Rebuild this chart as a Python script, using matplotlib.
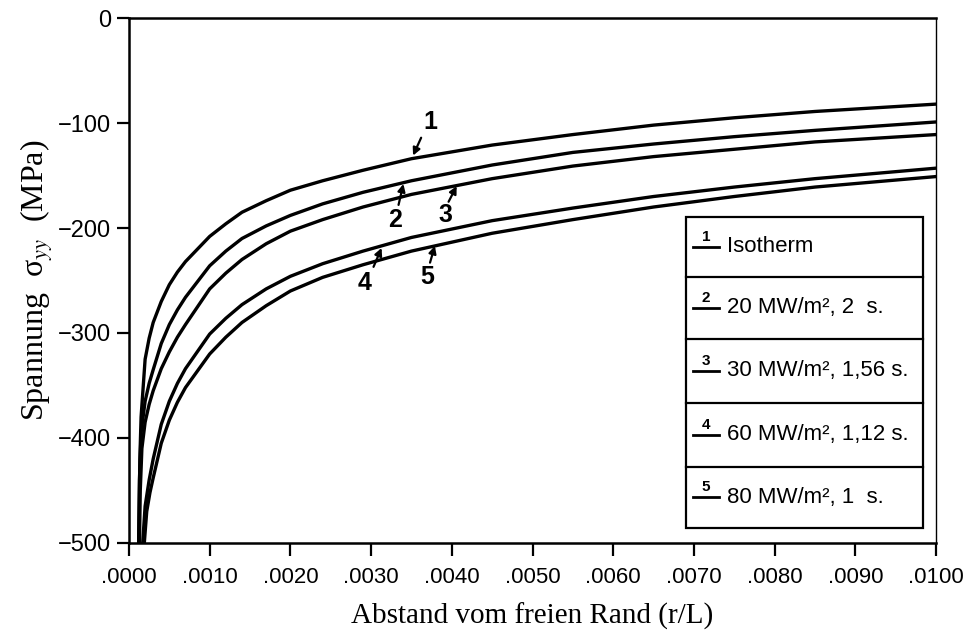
import numpy as np
import matplotlib.pyplot as plt
from matplotlib.patches import Rectangle

# Spannungsverlauf sigma_yy über dem Abstand vom freien Rand, 5 Lastfälle
r1 = [0.00012, 0.000135, 0.00015, 0.0002, 0.00025, 0.0003, 0.0004, 0.0005, 0.0006, 0.0007,
      0.001, 0.0012, 0.0014, 0.0017, 0.002, 0.0024, 0.0029, 0.0035, 0.0045, 0.0055,
      0.0065, 0.0075, 0.0085, 0.01]
s1 = [-500, -420, -380, -325, -305, -290, -270, -254, -242, -232,
      -208, -196, -185, -174, -164, -155, -145, -134, -121, -111,
      -102, -95, -89, -82]

r2 = [0.00012, 0.00013, 0.00015, 0.0002, 0.00025, 0.0003, 0.0004, 0.0005, 0.0006, 0.0007,
      0.001, 0.0012, 0.0014, 0.0017, 0.002, 0.0024, 0.0029, 0.0035, 0.0045, 0.0055,
      0.0065, 0.0075, 0.0085, 0.01]
s2 = [-500, -440, -395, -365, -348, -335, -310, -292, -278, -266,
      -236, -222, -210, -198, -188, -177, -166, -155, -140, -128,
      -120, -113, -107, -99]

r3 = [0.00013, 0.00014, 0.00016, 0.0002, 0.00025, 0.0003, 0.0004, 0.0005, 0.0006, 0.0007,
      0.001, 0.0012, 0.0014, 0.0017, 0.002, 0.0024, 0.0029, 0.0035, 0.0045, 0.0055,
      0.0065, 0.0075, 0.0085, 0.01]
s3 = [-500, -450, -410, -385, -368, -355, -334, -318, -304, -292,
      -258, -243, -230, -215, -203, -192, -180, -168, -153, -141,
      -132, -125, -118, -111]

r4 = [0.00017, 0.0002, 0.00025, 0.0003, 0.0004, 0.0005, 0.0006, 0.0007, 0.001, 0.0012,
      0.0014, 0.0017, 0.002, 0.0024, 0.0029, 0.0035, 0.0045, 0.0055, 0.0065, 0.0075,
      0.0085, 0.01]
s4 = [-500, -465, -440, -420, -387, -365, -348, -334, -301, -286,
      -273, -258, -246, -234, -222, -209, -193, -181, -170, -161,
      -153, -143]

r5 = [0.00019, 0.00022, 0.00026, 0.0003, 0.0004, 0.0005, 0.0006, 0.0007, 0.001, 0.0012,
      0.0014, 0.0017, 0.002, 0.0024, 0.0029, 0.0035, 0.0045, 0.0055, 0.0065, 0.0075,
      0.0085, 0.01]
s5 = [-500, -470, -452, -438, -405, -383, -366, -352, -320, -304,
      -290, -274, -260, -247, -235, -222, -205, -192, -180, -170,
      -161, -151]

kurven = [(r1, s1), (r2, s2), (r3, s3), (r4, s4), (r5, s5)]
nummern = ["1", "2", "3", "4", "5"]
legende = ["Isotherm", "20 MW/m², 2  s.", "30 MW/m², 1,56 s.",
           "60 MW/m², 1,12 s.", "80 MW/m², 1  s."]

xticks = [0.0, 0.001, 0.002, 0.003, 0.004, 0.005, 0.006, 0.007, 0.008, 0.009, 0.01]
xticklabels = [".0000", ".0010", ".0020", ".0030", ".0040", ".0050",
               ".0060", ".0070", ".0080", ".0090", ".0100"]
yticks = [0, -100, -200, -300, -400, -500]
yticklabels = ["0", "\u2212100", "\u2212200", "\u2212300", "\u2212400", "\u2212500"]

schmal = ["Liberation Sans", "DejaVu Sans"]
plt.rcParams["mathtext.fontset"] = "stix"

fig = plt.figure(figsize=(9.69, 6.37), dpi=100)
ax = fig.add_axes([0.1331, 0.1476, 0.8329, 0.8241])

for r, s in kurven:
    ax.plot(r, s, color="black", lw=2.4, solid_joinstyle="round")

ax.set_xlim(0, 0.01)
ax.set_ylim(-500, 0)

ax.set_xticks(xticks)
ax.set_xticklabels(xticklabels, family=schmal, fontsize=16)
ax.set_yticks(yticks)
ax.set_yticklabels(yticklabels, family=schmal, fontsize=17)
ax.tick_params(direction="out", length=9, width=1.6)
ax.tick_params(axis="x", pad=8)
ax.tick_params(axis="y", pad=4)

for seite in ["left", "bottom", "top"]:
    ax.spines[seite].set_linewidth(1.8)
ax.spines["right"].set_linewidth(1.0)

ax.set_xlabel("Abstand vom freien Rand (r/L)", family="Liberation Serif", fontsize=21, labelpad=11)
ax.set_ylabel("Spannung  σ$_{yy}$  (MPa)", family="Liberation Serif", fontsize=23, labelpad=2)

# Kurvennummern mit Pfeilen
marken = [("1", (0.00373, -99), (0.00362, -114), (0.00352, -131)),
          ("2", (0.00330, -192), (0.00334, -178), (0.00340, -158)),
          ("3", (0.00392, -188), (0.00396, -175), (0.00406, -160)),
          ("4", (0.00292, -252), (0.00303, -237), (0.00313, -219)),
          ("5", (0.00370, -247), (0.00373, -233), (0.00379, -217))]
for nr, pos, von, nach in marken:
    ax.text(pos[0], pos[1], nr, ha="center", va="center", fontsize=18,
            fontweight="bold", family=["Liberation Sans", "DejaVu Sans"])
    ax.annotate("", xy=nach, xytext=von,
                arrowprops=dict(arrowstyle="-|>", color="black", lw=1.6,
                                mutation_scale=11, shrinkA=0, shrinkB=0))

# Legendenkasten
x0, x1 = 0.690, 0.984
grenzen = [0.621, 0.507, 0.389, 0.267, 0.145, 0.029]
ax.add_patch(Rectangle((x0, grenzen[-1]), x1 - x0, grenzen[0] - grenzen[-1],
                       transform=ax.transAxes, facecolor="white",
                       edgecolor="black", lw=1.6, zorder=5))
for i in range(5):
    oben, unten = grenzen[i], grenzen[i + 1]
    mitte = (oben + unten) / 2
    if i > 0:
        ax.plot([x0, x1], [oben, oben], transform=ax.transAxes,
                color="black", lw=1.6, zorder=6)
    ax.plot([0.699, 0.731], [mitte, mitte], transform=ax.transAxes,
            color="black", lw=2.0, zorder=6)
    ax.text(0.715, mitte + 0.006, nummern[i], transform=ax.transAxes,
            ha="center", va="bottom", fontsize=11, fontweight="bold",
            family=["Liberation Sans", "DejaVu Sans"], zorder=7)
    ax.text(0.741, mitte, legende[i], transform=ax.transAxes, ha="left",
            va="center", fontsize=16, family=schmal, zorder=7)

fig.savefig("out.png", dpi=100)
